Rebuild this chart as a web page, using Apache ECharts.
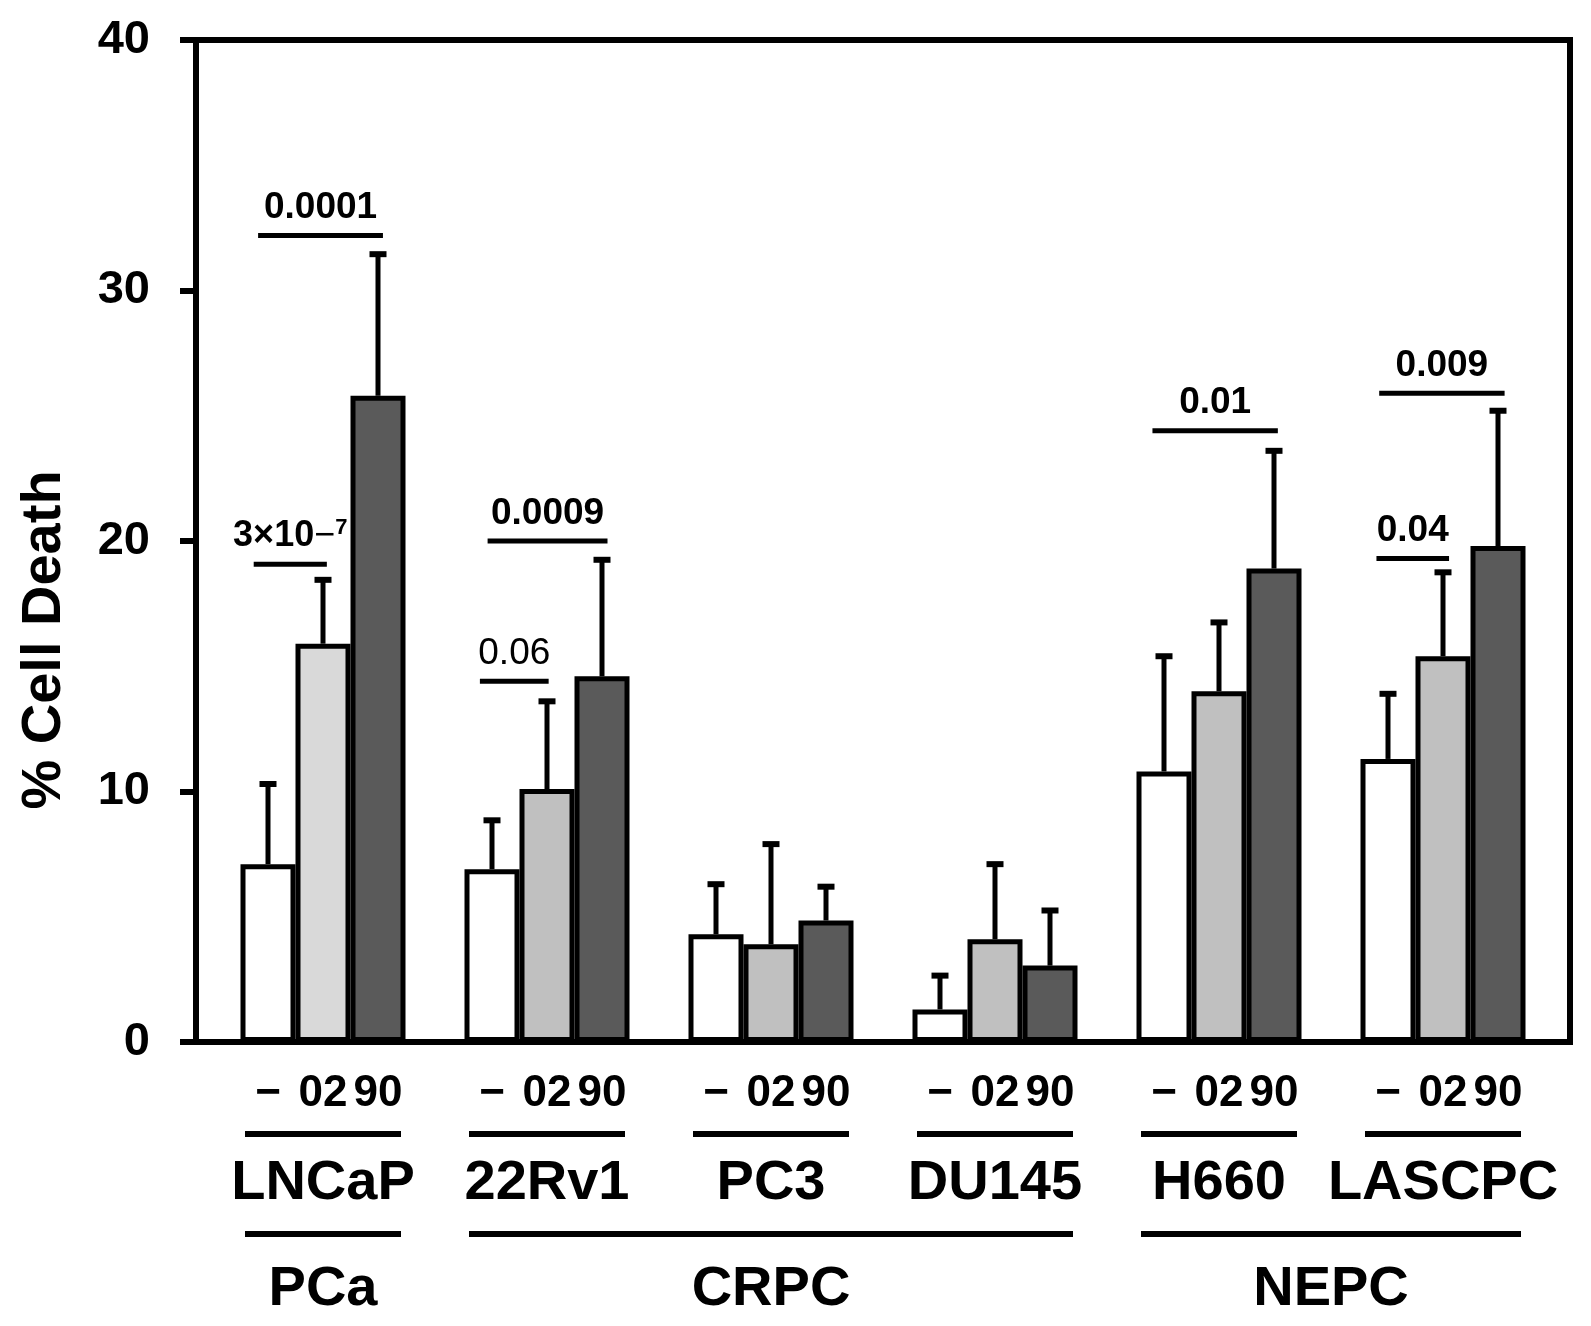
<!DOCTYPE html>
<html>
<head>
<meta charset="utf-8">
<title>% Cell Death</title>
<script src="https://cdn.jsdelivr.net/npm/echarts@6/dist/echarts.min.js"></script>
<style>
  html, body { margin: 0; padding: 0; background: #fff; }
  #main { width: 1591px; height: 1326px; }
</style>
</head>
<body>
<div id="main"></div>
<script>
// cell lines and treatment labels
const categories = ['LNCaP', '22Rv1', 'PC3', 'DU145', 'H660', 'LASCPC'];
const doses = ['\u2212', '02', '90'];

// mean % cell death and SD (upper error bar only)
const ctrlMean = [7.1, 6.9, 4.3, 1.3, 10.8, 11.3];
const ctrlSd = [3.2, 1.95, 2.0, 1.35, 4.6, 2.6];
const dose02Mean = [15.9, 10.1, 3.9, 4.1, 14.0, 15.4];
const dose02Sd = [2.55, 3.5, 4.0, 3.0, 2.75, 3.35];
const dose90Mean = [25.8, 14.6, 4.85, 3.05, 18.9, 19.8];
const dose90Sd = [5.65, 4.65, 1.35, 2.2, 4.7, 5.4];

// p-value brackets: category, start / end (in bar widths from group centre), height, text
const sigCat = [0, 0, 1, 1, 4, 5, 5];
const sigFrom = [-1.26, -1.18, -1.22, -1.08, -1.21, -1.21, -1.16];
const sigTo = [0.07, 1.09, 0.03, 1.10, 1.07, 0.11, 1.12];
const sigY = [19.07, 32.2, 14.4, 20.0, 24.4, 19.3, 25.9];
const sigText = ['3\u00d710\u22127', '0.0001', '0.06', '0.0009', '0.01', '0.04', '0.009'];

// cancer type groups
const groupNames = ['PCa', 'CRPC', 'NEPC'];
const groupFrom = [0, 1, 4];
const groupTo = [0, 3, 5];

const yTicks = [0, 10, 20, 30, 40];

const FONT = '"Liberation Sans", Arial, Helvetica, sans-serif';
const BAR_W = 55;
const barColors = ['#ffffff', '#c0c0c0', '#5a5a5a'];
const plainLabels = ['0.06'];

window.onload = function () {
  const chartDom = document.getElementById('main');
  const myChart = echarts.init(chartDom);

  const means = [ctrlMean, dose02Mean, dose90Mean];
  const sds = [ctrlSd, dose02Sd, dose90Sd];

  const barSeries = means.map(function (vals, s) {
    return {
      type: 'bar',
      name: doses[s],
      xAxisIndex: 1,
      yAxisIndex: 1,
      barWidth: BAR_W,
      barGap: '0%',
      itemStyle: { color: barColors[s], borderColor: '#000', borderWidth: 5 },
      data: vals.map(function (v, i) {
        // LNCaP 02 bar is printed a shade lighter
        if (s === 1 && i === 0) return { value: v, itemStyle: { color: '#d9d9d9' } };
        return v;
      })
    };
  });

  const errData = [];
  means.forEach(function (vals, s) {
    vals.forEach(function (v, i) { errData.push([i, s, v, sds[s][i]]); });
  });

  const sigData = sigCat.map(function (c, k) {
    return [c, sigFrom[k], sigTo[k], sigY[k], k];
  });

  const groupData = groupNames.map(function (g, k) {
    return [groupFrom[k], groupTo[k], k];
  });

  const option = {
    backgroundColor: '#fff',
    animation: false,
    grid: [
      { left: 196, right: 21, top: 40, bottom: 284, show: true, borderColor: '#000', borderWidth: 6, backgroundColor: 'transparent' },
      { left: 211, right: 36, top: 40, bottom: 284 }
    ],
    xAxis: [
      { gridIndex: 0, type: 'value', min: 0, max: 1, show: false },
      {
        gridIndex: 1,
        type: 'category',
        data: categories,
        axisLine: { show: false },
        axisTick: { show: false },
        axisLabel: {
          interval: 0,
          margin: 114,
          color: '#000',
          fontFamily: FONT,
          fontWeight: 'bold',
          fontSize: 56,
          lineHeight: 56
        }
      }
    ],
    yAxis: [
      {
        gridIndex: 0,
        type: 'value',
        min: 0,
        max: 40,
        interval: 10,
        axisLine: { show: true, lineStyle: { color: '#000', width: 6 } },
        axisTick: { show: true, inside: false, length: 16, lineStyle: { color: '#000', width: 6 } },
        axisLabel: {
          margin: 46,
          color: '#000',
          fontFamily: FONT,
          fontWeight: 'bold',
          fontSize: 47,
          formatter: function (v) { return yTicks.indexOf(v) >= 0 ? String(v) : ''; }
        },
        splitLine: { show: false }
      },
      { gridIndex: 1, type: 'value', min: 0, max: 40, show: false }
    ],
    graphic: [
      {
        type: 'text',
        x: 45,
        y: 640,
        rotation: Math.PI / 2,
        style: {
          text: '% Cell Death',
          fontFamily: FONT,
          fontWeight: 'bold',
          fontSize: 56,
          fill: '#000',
          align: 'center',
          verticalAlign: 'middle'
        }
      }
    ],
    series: barSeries.concat([
      {
        // upper error bars
        type: 'custom',
        xAxisIndex: 1,
        yAxisIndex: 1,
        clip: false,
        z: 3,
        data: errData,
        renderItem: function (params, api) {
          const cat = api.value(0);
          const s = api.value(1);
          const mean = api.value(2);
          const sd = api.value(3);
          const x = api.coord([cat, 0])[0] + (s - 1) * BAR_W;
          const yTop = api.coord([cat, mean + sd])[1];
          const yBar = api.coord([cat, mean])[1];
          return {
            type: 'group',
            children: [
              { type: 'line', shape: { x1: x, y1: yBar, x2: x, y2: yTop }, style: { stroke: '#000', lineWidth: 5 } },
              { type: 'line', shape: { x1: x - 8.5, y1: yTop, x2: x + 8.5, y2: yTop }, style: { stroke: '#000', lineWidth: 6 } }
            ]
          };
        }
      },
      {
        // p-value brackets
        type: 'custom',
        xAxisIndex: 1,
        yAxisIndex: 1,
        clip: false,
        z: 3,
        data: sigData,
        renderItem: function (params, api) {
          const cat = api.value(0);
          const k = api.value(4);
          const p = api.coord([cat, api.value(3)]);
          const x1 = p[0] + api.value(1) * BAR_W;
          const x2 = p[0] + api.value(2) * BAR_W;
          const txt = sigText[k];
          let textStyle;
          if (txt.indexOf('\u00d7') >= 0) {
            const parts = txt.split('\u2212');
            textStyle = {
              text: '{a|' + parts[0] + '}{m|\u2212}{s|' + parts[1] + '}',
              rich: {
                a: { fontFamily: FONT, fontWeight: 'bold', fontSize: 36, fill: '#000', lineHeight: 38 },
                m: { fontFamily: FONT, fontWeight: 'normal', fontSize: 36, fill: '#000', lineHeight: 38 },
                s: { fontFamily: FONT, fontWeight: 'bold', fontSize: 22, fill: '#000', verticalAlign: 'top', lineHeight: 38 }
              },
              align: 'center',
              verticalAlign: 'bottom'
            };
          } else {
            textStyle = {
              text: txt,
              fontFamily: FONT,
              fontWeight: plainLabels.indexOf(txt) >= 0 ? 'normal' : 'bold',
              fontSize: 37,
              fill: '#000',
              align: 'center',
              verticalAlign: 'bottom'
            };
          }
          return {
            type: 'group',
            children: [
              { type: 'line', shape: { x1: x1, y1: p[1], x2: x2, y2: p[1] }, style: { stroke: '#000', lineWidth: 5 } },
              { type: 'text', x: (x1 + x2) / 2, y: p[1] - 9, style: textStyle }
            ]
          };
        }
      },
      {
        // treatment row under each cell line
        type: 'custom',
        xAxisIndex: 1,
        yAxisIndex: 1,
        clip: false,
        data: categories.map(function (c, i) { return [i]; }),
        renderItem: function (params, api) {
          const base = api.coord([api.value(0), 0]);
          const children = doses.map(function (d, i) {
            return {
              type: 'text',
              x: base[0] + (i - 1) * BAR_W,
              y: base[1] + 52,
              style: {
                text: d,
                fontFamily: FONT,
                fontWeight: 'bold',
                fontSize: 44,
                fill: '#000',
                align: 'center',
                verticalAlign: 'middle'
              }
            };
          });
          children.push({
            type: 'line',
            shape: { x1: base[0] - 78, y1: base[1] + 92, x2: base[0] + 78, y2: base[1] + 92 },
            style: { stroke: '#000', lineWidth: 6 }
          });
          return { type: 'group', children: children };
        }
      },
      {
        // cancer type groups
        type: 'custom',
        xAxisIndex: 1,
        yAxisIndex: 1,
        clip: false,
        data: groupData,
        renderItem: function (params, api) {
          const a = api.coord([api.value(0), 0]);
          const b = api.coord([api.value(1), 0]);
          const k = api.value(2);
          return {
            type: 'group',
            children: [
              {
                type: 'line',
                shape: { x1: a[0] - 78, y1: a[1] + 192, x2: b[0] + 78, y2: a[1] + 192 },
                style: { stroke: '#000', lineWidth: 6 }
              },
              {
                type: 'text',
                x: (a[0] + b[0]) / 2,
                y: a[1] + 248,
                style: {
                  text: groupNames[k],
                  fontFamily: FONT,
                  fontWeight: 'bold',
                  fontSize: 56,
                  fill: '#000',
                  align: 'center',
                  verticalAlign: 'middle'
                }
              }
            ]
          };
        }
      }
    ])
  };

  option && myChart.setOption(option);
};
</script>
</body>
</html>
